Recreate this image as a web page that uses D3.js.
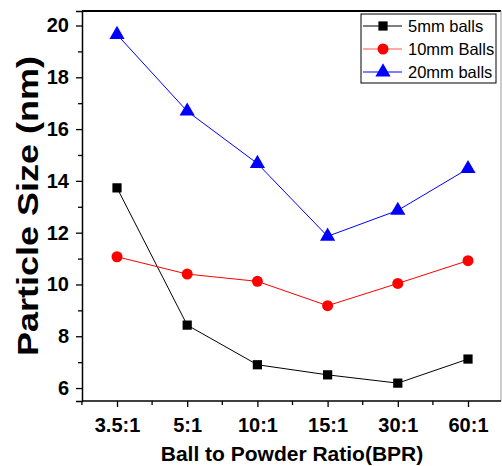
<!DOCTYPE html>
<html>
<head>
<meta charset="utf-8">
<script src="https://cdn.jsdelivr.net/npm/d3@7"></script>
<style>
  body { margin: 0; background: #fff; }
  svg { display: block; }
</style>
</head>
<body>
<div id="chart"></div>
<script>
// Data
const ratios = ["3.5:1", "5:1", "10:1", "15:1", "30:1", "60:1"];
const balls5 = [13.73, 8.43, 6.90, 6.51, 6.19, 7.12];
const balls10 = [11.07, 10.40, 10.12, 9.18, 10.04, 10.92];
const balls20 = [19.65, 16.69, 14.67, 11.86, 12.86, 14.47];
const yTicks = d3.range(6, 21, 1);
const seriesNames = ["5mm balls", "10mm Balls", "20mm balls"];

const width = 502, height = 466;
const plotLeft = 82, plotRight = 501, plotTop = 11, plotBottom = 401;

const svg = d3.select("#chart").append("svg")
  .attr("width", width)
  .attr("height", height);

// scales
const x = d3.scalePoint().domain(ratios).range([117, 468]);
const step = x.step();
const y = d3.scaleLinear().domain([5.5, 20.56]).range([plotBottom, plotTop]);

// frame: thick top, thin grey right
svg.append("line")
  .attr("x1", plotLeft).attr("x2", plotRight)
  .attr("y1", plotTop).attr("y2", plotTop)
  .attr("stroke", "#000").attr("stroke-width", 2);
svg.append("line")
  .attr("x1", plotRight).attr("x2", plotRight)
  .attr("y1", plotTop).attr("y2", plotBottom)
  .attr("stroke", "#999").attr("stroke-width", 1);

// y axis
const yAxis = svg.append("g")
  .attr("transform", `translate(${plotLeft},0)`)
  .call(d3.axisLeft(y)
    .tickValues(yTicks)
    .tickSize(6)
    .tickPadding(7)
    .tickFormat(d => d % 2 === 0 ? d : ""));
yAxis.select(".domain").attr("stroke-width", 1.5);
yAxis.selectAll(".tick line")
  .attr("stroke-width", 1.3)
  .attr("x2", d => d % 2 === 0 ? -6 : -4);
yAxis.selectAll("text")
  .attr("font-family", "Liberation Sans, Arial, sans-serif")
  .attr("font-weight", "bold")
  .attr("font-size", "20px")
  .attr("fill", "#000");

// x axis
const xAxis = svg.append("g")
  .attr("transform", `translate(0,${plotBottom})`)
  .call(d3.axisBottom(x).tickSize(6).tickPadding(11));
xAxis.select(".domain").attr("d", `M${plotLeft},0H${plotRight}`).attr("stroke-width", 1.5);
xAxis.selectAll(".tick line").attr("stroke-width", 1.3);
xAxis.selectAll("text")
  .attr("font-family", "Liberation Sans, Arial, sans-serif")
  .attr("font-weight", "bold")
  .attr("font-size", "20px")
  .attr("fill", "#000");
// minor ticks halfway between categories
const minor = ratios.map(r => x(r) - step / 2);
xAxis.selectAll(".minor")
  .data(minor)
  .join("line")
  .attr("class", "minor")
  .attr("x1", d => d).attr("x2", d => d)
  .attr("y1", 0).attr("y2", 4)
  .attr("stroke", "#000").attr("stroke-width", 1.3);

// axis titles (y title is stretched along its length like the original)
svg.append("text")
  .attr("transform", `translate(38,206) rotate(-90) scale(1.2,1)`)
  .attr("text-anchor", "middle")
  .attr("font-family", "Liberation Sans, Arial, sans-serif")
  .attr("font-weight", "bold")
  .attr("font-size", "30px")
  .text("Particle Size (nm)");

svg.append("text")
  .attr("x", 292)
  .attr("y", 461)
  .attr("text-anchor", "middle")
  .attr("font-family", "Liberation Sans, Arial, sans-serif")
  .attr("font-weight", "bold")
  .attr("font-size", "21px")
  .text("Ball to Powder Ratio(BPR)");

// series
const series = [
  { name: seriesNames[0], values: balls5, color: "#000", legendColor: "#000", shape: d3.symbolSquare, size: 85 },
  { name: seriesNames[1], values: balls10, color: "#f00", legendColor: "#f55", shape: d3.symbolCircle, size: 95 },
  { name: seriesNames[2], values: balls20, color: "#00f", legendColor: "#00f", shape: d3.symbolTriangle, size: 100 }
];

const line = d3.line()
  .x((d, i) => x(ratios[i]))
  .y(d => y(d));

series.forEach(s => {
  svg.append("path")
    .datum(s.values)
    .attr("fill", "none")
    .attr("stroke", s.color)
    .attr("stroke-width", 1)
    .attr("d", line);
  svg.append("g")
    .selectAll("path")
    .data(s.values)
    .join("path")
    .attr("transform", (d, i) => `translate(${x(ratios[i])},${y(d)})`)
    .attr("d", d3.symbol(s.shape, s.size))
    .attr("fill", s.color);
});

// legend
const legend = svg.append("g");
legend.append("rect")
  .attr("x", 361).attr("y", 14)
  .attr("width", 135).attr("height", 69)
  .attr("fill", "#fff")
  .attr("stroke", "#000")
  .attr("stroke-width", 1);
series.forEach((s, i) => {
  const ly = 26 + i * 23;
  legend.append("line")
    .attr("x1", 363).attr("x2", 402)
    .attr("y1", ly).attr("y2", ly)
    .attr("stroke", s.legendColor).attr("stroke-width", 1);
  legend.append("path")
    .attr("transform", `translate(383,${ly})`)
    .attr("d", d3.symbol(s.shape, s.size))
    .attr("fill", s.color);
  legend.append("text")
    .attr("x", 408)
    .attr("y", ly + 6)
    .attr("font-family", "Liberation Sans, Arial, sans-serif")
    .attr("font-size", "16.5px")
    .text(s.name);
});
</script>
</body>
</html>
